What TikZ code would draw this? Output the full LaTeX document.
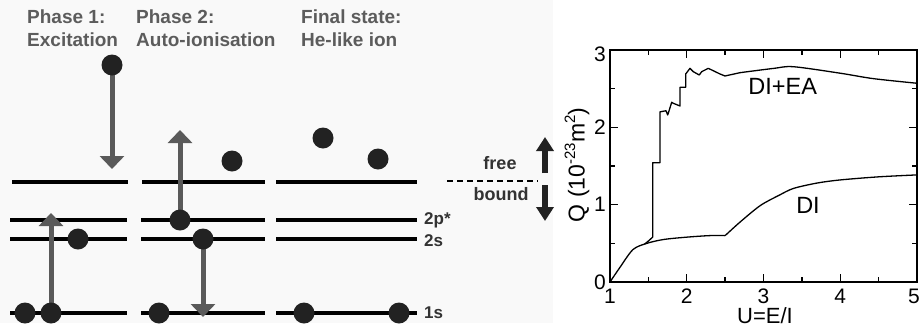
\documentclass[tikz,border=0pt]{standalone}
\usepackage{fontspec}
\setmainfont{Liberation Sans}
\usetikzlibrary{arrows.meta}
\definecolor{arrgray}{HTML}{5A5A5A}
\definecolor{headgray}{HTML}{5C5C5C}
\definecolor{dotc}{HTML}{222222}
\definecolor{bgc}{HTML}{F9F9F9}
\definecolor{labc}{HTML}{333333}
\newcommand{\supx}[1]{\raisebox{9.5pt}{\fontsize{15}{15}\selectfont #1}}
\begin{document}
\begin{tikzpicture}[x=1pt,y=-1pt,
  level/.style={line width=4pt, black},
  electron/.style={circle, fill=dotc, inner sep=0pt, minimum size=21pt},
  trans/.style={line width=5pt, draw=arrgray, -{Triangle[length=13pt,width=24pt]}},
  sidearrow/.style={line width=6pt, draw=dotc, -{Triangle[length=14pt,width=17pt]}},
  phasetext/.style={font=\fontsize{19}{22}\selectfont\bfseries, text=headgray, anchor=base west, inner sep=0pt},
  levlab/.style={font=\fontsize{17}{19}\selectfont\bfseries, text=labc, anchor=west, inner sep=0pt},
  fbtext/.style={font=\fontsize{18}{20}\selectfont\bfseries, text=labc, inner sep=0pt},
  ticklab/.style={font=\fontsize{21}{23}\selectfont, inner sep=0pt},
  curvelab/.style={font=\fontsize{23.5}{26}\selectfont, inner sep=0pt},
  curve/.style={line width=1.3pt, black, line join=round},
  frame/.style={line width=1.3pt, black}
]
\useasboundingbox (0,0) rectangle (920,327);
\fill[bgc] (0,0) rectangle (553,323);

% headings
\node[phasetext] (h1a) at (27,23) {Phase 1:};
\node[phasetext] (h1b) at (27,46) {Excitation};
\node[phasetext] (h2a) at (136,23) {Phase 2:};
\node[phasetext] (h2b) at (136,46) {Auto-ionisation};
\node[phasetext] (h3a) at (301,23) {Final state:};
\node[phasetext] (h3b) at (301,46) {He-like ion};

% energy levels
\draw[level] (12,182) -- (128,182);
\draw[level] (142,182) -- (265,182);
\draw[level] (276,182) -- (417,182);
\foreach \y in {220,239,313}{
  \draw[level] (10,\y) -- (127,\y);
  \draw[level] (141,\y) -- (265,\y);
  \draw[level] (276,\y) -- (417,\y);
}
\node[levlab] (l2p) at (424,220) {2p*};
\node[levlab] (l2s) at (424,241) {2s};
\node[levlab] (l1s) at (424,313) {1s};

% electron positions
\coordinate (e1top) at (112,65);
\coordinate (e1s2) at (78,239);
\coordinate (e1a) at (25,313);
\coordinate (e1b) at (51,313);
\coordinate (e2p) at (180,220);
\coordinate (e2free) at (232,161);
\coordinate (e2s) at (203,239);
\coordinate (e21s) at (159,313);
\coordinate (e3f1) at (323,138);
\coordinate (e3f2) at (378,159);
\coordinate (e3a) at (304,313);
\coordinate (e3b) at (399,313);
% arrow ends
\coordinate (t1down) at (112,169);
\coordinate (t1up) at (51,213);
\coordinate (t2up) at (180,130);
\coordinate (t2down) at (203,317);

\draw[trans] (e1top) -- (t1down);
\draw[trans] (e1b) -- (t1up);
\draw[trans] (e2p) -- (t2up);
\draw[trans] (e2s) -- (t2down);

\foreach \e in {e1top,e1s2,e1a,e1b,e2p,e2free,e2s,e21s,e3f1,e3f2,e3a,e3b}
  \node[electron] (n\e) at (\e) {};

% free / bound
\coordinate (dl) at (447,181);
\coordinate (dr) at (538,181);
\draw[line width=2pt, dash pattern=on 6pt off 4pt] (dl) -- (dr);
\node[fbtext, anchor=base] (free) at (500,169) {free};
\node[fbtext, anchor=base] (bound) at (501,200) {bound};
\coordinate (ua0) at (545,173);
\coordinate (ua1) at (545,137);
\coordinate (da0) at (545,185);
\coordinate (da1) at (545,221);
\draw[sidearrow] (ua0) -- (ua1);
\draw[sidearrow] (da0) -- (da1);

% plot (U=1 at x=610, Q=0 at y=282)
\begin{scope}[shift={(533.25pt,-282pt)}, x=76.75pt, y=77.33pt]
  \draw[frame] (1,0) rectangle (5,3);
  \foreach \u in {2,3,4}{
    \draw[frame] (\u,0) -- ++(0,8pt);
    \draw[frame] (\u,3) -- ++(0,-8pt);
  }
  \foreach \u in {1.5,2.5,3.5,4.5}{
    \draw[frame] (\u,0) -- ++(0,5pt);
    \draw[frame] (\u,3) -- ++(0,-5pt);
  }
  \foreach \q in {1,2}{
    \draw[frame] (1,\q) -- ++(8pt,0);
    \draw[frame] (5,\q) -- ++(-8pt,0);
  }
  \foreach \q in {0.5,1.5,2.5}{
    \draw[frame] (1,\q) -- ++(5pt,0);
    \draw[frame] (5,\q) -- ++(-5pt,0);
  }
  \foreach \u in {1,2,3,4}
    \node[ticklab, anchor=north] (xl\u) at ([yshift=-7pt]\u,0) {\u};
  \node[ticklab, anchor=north east] (xl5) at ([yshift=-7pt,xshift=3pt]5,0) {5};
  \foreach \q in {0,1,2}
    \node[ticklab, anchor=east] (yl\q) at ([xshift=-4pt]1,\q) {\q};
  \node[ticklab, anchor=east] (yl3) at ([xshift=-4pt,yshift=-4pt]1,3) {3};

  % DI
  \draw[curve] plot[smooth, tension=0.5] coordinates {
    (1,0) (1.13,0.19) (1.30,0.42) (1.48,0.50) (1.7,0.55) (2.0,0.58) (2.3,0.60) (2.5,0.60)};
  \draw[curve] plot[smooth, tension=0.5] coordinates {
    (2.5,0.60) (2.7,0.78) (2.96,0.99) (3.2,1.12) (3.39,1.21) (3.7,1.28) (4.0,1.32) (4.5,1.36) (5.0,1.385)};
  % DI+EA
  \draw[curve] (1.45,0.49) -- (1.50,0.53) -- (1.556,0.58) -- (1.556,1.543) -- (1.651,1.543)
    -- (1.651,2.20) -- (1.73,2.215) -- (1.752,2.16) -- (1.804,2.324) -- (1.825,2.311)
    -- (1.912,2.276) -- (1.912,2.518) -- (1.986,2.518) -- (1.986,2.69) -- (2.042,2.763)
    -- (2.085,2.72) -- (2.163,2.677) -- (2.195,2.72) -- (2.28,2.763) -- (2.325,2.742)
    -- (2.433,2.69) -- (2.498,2.664) -- (2.694,2.707);
  \draw[curve] plot[smooth, tension=0.5] coordinates {
    (2.694,2.707) (3.13,2.762) (3.39,2.784) (4.0,2.70) (4.43,2.63) (5.0,2.57)};

  \node[curvelab] (lab1) at (3.25,2.53) {DI+EA};
  \node[curvelab] (lab2) at (3.58,0.99) {DI};
\end{scope}
\node[font=\fontsize{22}{24}\selectfont, anchor=base, inner sep=0pt] (xlab) at (765,323) {U=E/I};
\node[font=\fontsize{23}{26}\selectfont, rotate=90, inner sep=0pt] (ylab) at (577,165) {Q (10\supx{-23}m\supx{2})};
\end{tikzpicture}
\end{document}
